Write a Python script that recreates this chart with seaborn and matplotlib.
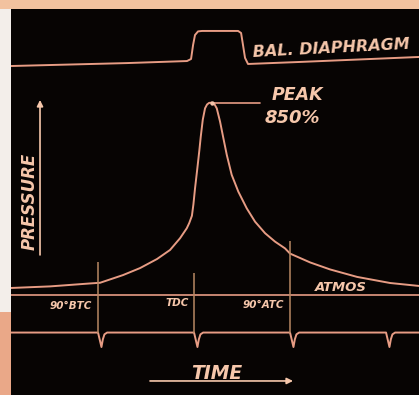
import matplotlib
matplotlib.use("Agg")
import matplotlib.pyplot as plt
from matplotlib.patches import Rectangle
import seaborn as sns

# Engine indicator oscillogram: crank angle in degrees (TDC = 0),
# trace deflection in pressure units (atmospheric = 0, peak = 850).
crank_deg = [-171.6, -135.0, -97.5, -88.1, -66.6, -50.6, -34.7, -22.5, -13.1,
             -6.8, -4.5, -2.0, -0.6, 0.9, 3.1, 5.0, 6.3, 8.2, 10.3, 12.2, 14.1,
             16.6, 18.8, 21.3, 24.4, 27.5, 30.7, 35.3, 41.5, 49.4, 57.2,
             66.6, 75.9, 85.3, 90.0, 108.8, 127.5, 152.8, 183.8, 210.9]
pressure = [31, 38, 51, 54, 88, 119, 159, 199, 251,
            295, 318, 350, 400, 470, 560, 640, 700, 775, 825, 842, 849,
            850, 846, 825, 766, 693, 619, 531, 457, 383, 324,
            273, 236, 206, 183, 144, 113, 80, 53, 40]
PEAK_VALUE = 850
PEAK_DEG = 16.6

# Balance-diaphragm trace (upper beam)
diaph_deg = [-171.6, -62.8, -6.6, -2.8, -0.9, 0.9, 3.75, 7.5, 41.3, 44.1,
             45.9, 47.8, 50.6, 99.4, 210.9]
diaph_trace = [1012, 1025, 1034, 1043, 1105, 1149, 1165, 1167, 1167, 1158,
               1105, 1048, 1021, 1030, 1052]

# Timing beam: crank-angle pips
timing_marks = [-90, 0, 90, 180]
TIMING_BASE = -166
pip_dx = [0.0, 3.2, 4.5, 6.0, 8.5]
pip_dy = [0, -64, -30, -8, 0]
marker_tops = [146, 97, 239]
timing_labels = ["90°BTC", "TDC", "90°ATC"]

X_LEFT, X_RIGHT = -171.6, 210.9
Y_BOTTOM, Y_TOP = -442, 1264

TRACE = "#e79c84"
BRIGHT = "#f3c3aa"
MARKER = "#b88863"
TEXT = "#f6c7ab"
SCREEN = "#070403"

sns.set_theme(style="white")
plt.rcParams["font.family"] = ["DejaVu Sans"]

fig = plt.figure(figsize=(4.19, 3.95), dpi=100)
fig.patch.set_facecolor("#f2c29f")
# left margin strip of the print: pale above, tinted below
fig.add_artist(Rectangle((0, 0), 11 / 419, 83 / 395, transform=fig.transFigure,
                         facecolor="#eaa888", edgecolor="none", zorder=1))
fig.add_artist(Rectangle((0, 83 / 395), 11 / 419, 303 / 395, transform=fig.transFigure,
                         facecolor="#f3eeea", edgecolor="none", zorder=1))

ax = fig.add_axes([11 / 419, 0, 408 / 419, 386 / 395])
ax.set_facecolor(SCREEN)
ax.set_xlim(X_LEFT, X_RIGHT)
ax.set_ylim(Y_BOTTOM, Y_TOP)
ax.set_xticks([])
ax.set_yticks([])
for s in ax.spines.values():
    s.set_visible(False)

lw = 1.4
# pressure trace
sns.lineplot(x=crank_deg, y=pressure, ax=ax, color=TRACE, linewidth=lw,
             sort=False, estimator=None)
# atmospheric reference line
ax.axhline(0, color=TRACE, linewidth=1.2)
# diaphragm trace
sns.lineplot(x=diaph_deg, y=diaph_trace, ax=ax, color=TRACE, linewidth=lw,
             sort=False, estimator=None)

# timing beam built from the pip marks
tx, ty = [X_LEFT], [TIMING_BASE]
for m in timing_marks:
    for dx, dy in zip(pip_dx, pip_dy):
        tx.append(m + dx)
        ty.append(TIMING_BASE + dy)
tx.append(X_RIGHT)
ty.append(TIMING_BASE)
sns.lineplot(x=tx, y=ty, ax=ax, color=TRACE, linewidth=lw, sort=False, estimator=None)

# crank-angle marker lines
ax.vlines(timing_marks[:3], TIMING_BASE, marker_tops, color=MARKER, linewidth=1.1)

# peak callout
ax.plot([PEAK_DEG + 1, 62], [PEAK_VALUE, PEAK_VALUE], color=TRACE, linewidth=1.2)
ax.scatter([PEAK_DEG], [PEAK_VALUE], s=10, color=BRIGHT, zorder=5, linewidths=0)

font = dict(family="DejaVu Sans", style="oblique", weight="bold", color=TEXT)
ax.text(96.6, 884, "PEAK", fontsize=12.5, ha="center", va="center", **font)
ax.text(91.9, 782, f"{PEAK_VALUE}%", fontsize=13, ha="center", va="center", **font)
ax.text(55.3, 1072, "BAL. DIAPHRAGM", fontsize=11.5, ha="left", va="center",
        rotation=3, rotation_mode="anchor", clip_on=True, **font)

label_x = [-116, -16, 64.7]
label_y = [-49, -35, -44]
for lx, ly, lab in zip(label_x, label_y, timing_labels):
    ax.text(lx, ly, lab, fontsize=7.5, ha="center", va="center", **font)
ax.text(137.8, 31, "ATMOS", fontsize=9.5, ha="center", va="center", **font)

# axis captions with arrows
ax.text(21.6, -345, "TIME", fontsize=13.5, ha="center", va="center", **font)
ax.annotate("", xy=(92.8, -380), xytext=(-41.3, -380),
            arrowprops=dict(arrowstyle="-|>", color=TEXT, lw=1.2,
                            mutation_scale=9, shrinkA=0, shrinkB=0))
ax.text(-153.8, 415, "PRESSURE", fontsize=12, ha="center", va="center",
        rotation=90, **font)
ax.annotate("", xy=(-144.4, 862), xytext=(-144.4, 177),
            arrowprops=dict(arrowstyle="-|>", color=TEXT, lw=1.2,
                            mutation_scale=9, shrinkA=0, shrinkB=0))

fig.savefig("out.png", dpi=100, facecolor=fig.get_facecolor())
